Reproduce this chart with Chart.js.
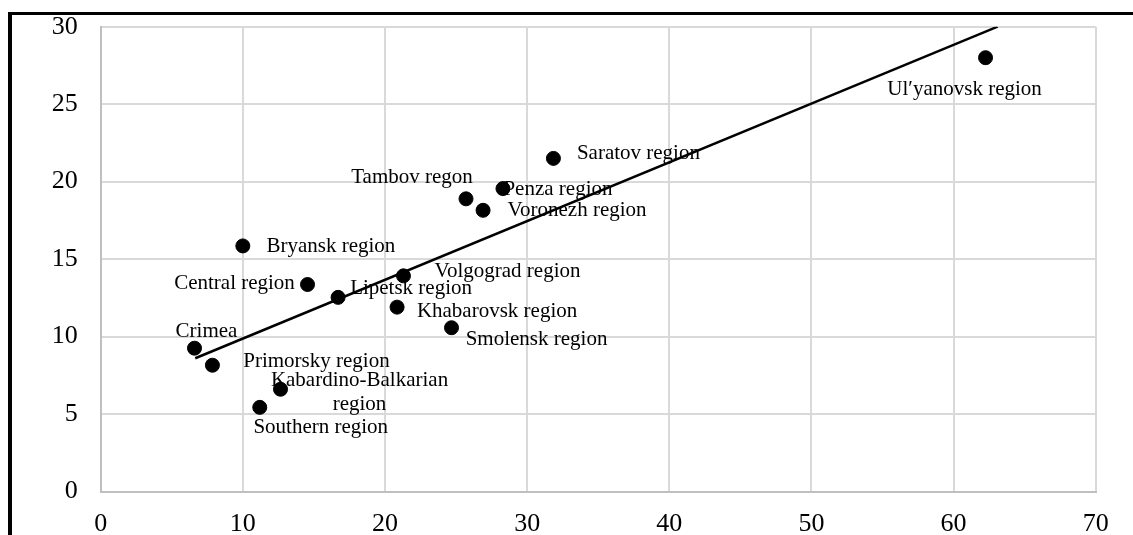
<!DOCTYPE html>
<html>
<head>
<meta charset="utf-8">
<script src="https://cdn.jsdelivr.net/npm/chart.js@4/dist/chart.umd.min.js"></script>
<style>
  html, body { margin: 0; padding: 0; background: #ffffff; }
  #wrap { width: 1133px; height: 535px; position: relative; }
</style>
</head>
<body>
<div id="wrap"><canvas id="c" width="1133" height="535"></canvas></div>
<script>
// ---- data ----
const regionNames = [
  "Crimea", "Primorsky region", "Kabardino-Balkarian\nregion", "Southern region",
  "Bryansk region", "Central region", "Lipetsk region", "Volgograd region",
  "Khabarovsk region", "Smolensk region", "Tambov regon", "Voronezh region",
  "Penza region", "Saratov region", "Ul\u2032yanovsk region"
];
const xValues = [6.6, 7.86, 12.65, 11.19, 10.0, 14.55, 16.7, 21.3, 20.85, 24.68, 25.7, 26.9, 28.3, 31.85, 62.25];
const yValues = [9.25, 8.15, 6.6, 5.43, 15.85, 13.36, 12.53, 13.92, 11.9, 10.57, 18.89, 18.15, 19.55, 21.5, 28.0];
const trendX = [6.65, 63.1];
const trendY = [8.6, 30];
const xTicks = [0, 10, 20, 30, 40, 50, 60, 70];
const yTicks = [0, 5, 10, 15, 20, 25, 30];

// label placement (text centre offset from the point, px)
const labelOffsets = [
  [12, -17], [104, -4], [79, 3], [61, 20],
  [88, 1], [-73, -1], [73, -9], [104, -4],
  [100, 4], [85, 12], [-54, -21], [94, 0],
  [55, 1], [85, -5], [-21, 32]
];

const points = xValues.map((x, i) => ({ x: x, y: yValues[i] }));
const trend = trendX.map((x, i) => ({ x: x, y: trendY[i] }));

const serif = "'Liberation Serif', 'Times New Roman', serif";

const framePlugin = {
  id: 'frame',
  afterDraw(chart) {
    const ctx = chart.ctx;
    ctx.save();
    ctx.strokeStyle = '#000';
    ctx.lineWidth = 3;
    ctx.beginPath();
    ctx.moveTo(8, 13.5);
    ctx.lineTo(1133, 13.5);
    ctx.stroke();
    ctx.lineWidth = 4;
    ctx.beginPath();
    ctx.moveTo(10, 12);
    ctx.lineTo(10, 535);
    ctx.stroke();
    ctx.restore();
  }
};

const labelPlugin = {
  id: 'pointLabels',
  afterDatasetsDraw(chart) {
    const ctx = chart.ctx;
    const meta = chart.getDatasetMeta(1);
    ctx.save();
    ctx.font = "21px " + serif;
    ctx.fillStyle = '#000';
    ctx.textAlign = 'center';
    ctx.textBaseline = 'middle';
    meta.data.forEach((el, i) => {
      const lines = regionNames[i].split('\n');
      const off = labelOffsets[i];
      const lh = 24;
      const cy = el.y + off[1] - (lines.length - 1) * lh / 2;
      lines.forEach((t, k) => {
        ctx.fillText(t, el.x + off[0], cy + k * lh);
      });
    });
    ctx.restore();
  }
};

new Chart(document.getElementById('c'), {
  type: 'scatter',
  data: {
    datasets: [
      {
        type: 'line',
        label: 'Trend',
        data: trend,
        borderColor: '#000',
        borderWidth: 2.5,
        pointRadius: 0,
        fill: false,
        tension: 0,
        order: 0
      },
      {
        label: 'Regions',
        data: points,
        backgroundColor: '#000',
        borderColor: '#000',
        pointRadius: 7,
        pointHoverRadius: 7,
        order: 1
      }
    ]
  },
  options: {
    responsive: false,
    animation: false,
    devicePixelRatio: 1,
    layout: { padding: { left: 0, top: 26.7, right: 37.3, bottom: 0 } },
    plugins: { legend: { display: false }, tooltip: { enabled: false } },
    scales: {
      x: {
        type: 'linear',
        min: 0, max: 70,
        afterBuildTicks(s) { s.ticks = xTicks.map(v => ({ value: v })); },
        afterFit(s) { s.height = 43.5; s.paddingLeft = 0; s.paddingRight = 0; },
        grid: { color: '#d9d9d9', lineWidth: 2, drawTicks: false },
        border: { color: '#bfbfbf', width: 2 },
        ticks: { color: '#000', font: { family: serif, size: 26 }, padding: 17, maxRotation: 0 }
      },
      y: {
        type: 'linear',
        min: 0, max: 30,
        afterBuildTicks(s) { s.ticks = yTicks.map(v => ({ value: v })); },
        afterFit(s) { s.width = 100.7; s.paddingTop = 0; s.paddingBottom = 0; },
        grid: { color: '#d9d9d9', lineWidth: 2, drawTicks: false },
        border: { color: '#bfbfbf', width: 2 },
        ticks: { color: '#000', font: { family: serif, size: 26 }, padding: 23 }
      }
    }
  },
  plugins: [framePlugin, labelPlugin]
});
</script>
</body>
</html>
